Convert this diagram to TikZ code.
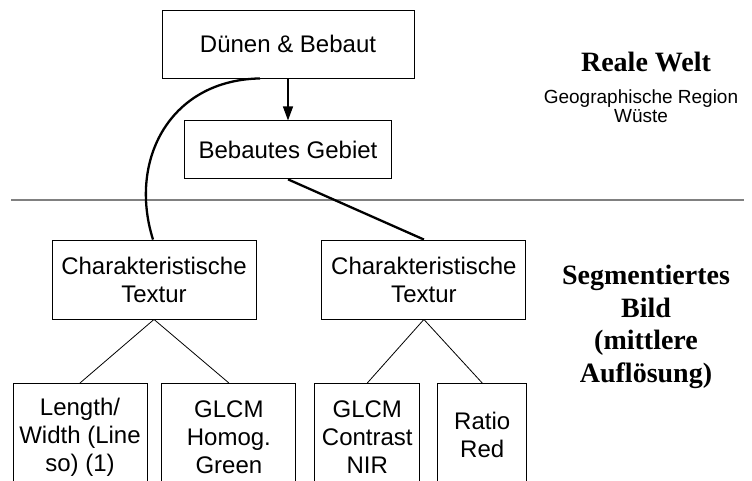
\documentclass[tikz,border=0pt]{standalone}
\usepackage{fontspec}
\setmainfont{Liberation Sans}
\newfontfamily\labelserif{Liberation Serif}
\usetikzlibrary{arrows.meta,positioning}
\tikzset{
  box/.style={draw,line width=0.9pt,fill=white,align=center,inner sep=0pt,font=\fontsize{24}{28}\selectfont},
  leaf/.style={box,minimum height=108pt},
  arr/.style={-{Triangle[length=14pt,width=10pt]},line width=1.2pt},
  link/.style={line width=0.8pt},
  boldlink/.style={line width=2.3pt},
  levelhead/.style={align=center,font=\labelserif\bfseries\fontsize{28}{32.5}\selectfont},
  levelsub/.style={align=center,font=\fontsize{19}{19}\selectfont}
}
\begin{document}
\begin{tikzpicture}[x=1pt,y=-1pt]
  \clip (0,0) rectangle (752,481);
  % levels
  \draw[gray,line width=2pt] (11,200) -- (744,200);
  \node[levelhead,anchor=base] (reale) at (646,72) {Reale Welt};
  \node[levelsub] (region) at (641,106) {Geographische Region\\Wüste};
  \node[levelhead] (segment) at (646,327) {Segmentiertes\\Bild\\(mittlere\\Auflösung)};
  % objects
  \node[box,minimum width=252pt,minimum height=68pt] (dunen) at (288,44) {Dünen \& Bebaut};
  \node[box,below=42pt of dunen,minimum width=207pt,minimum height=58pt] (gebiet) {Bebautes Gebiet};
  \node[box,minimum width=204pt,minimum height=79pt] (charL) at (154,279.5) {Charakteristische\\Textur};
  \node[box,right=65pt of charL,minimum width=204pt,minimum height=79pt] (charR) {Charakteristische\\Textur};
  % features
  \node[leaf,anchor=north,minimum width=134pt] (len) at (80,383) {Length/\\Width (Line\\so) (1)};
  \node[leaf,right=14pt of len,minimum width=134pt] (homog) {GLCM\\Homog.\\Green};
  \node[leaf,right=18pt of homog,minimum width=105pt] (contrast) {GLCM\\Contrast\\NIR};
  \node[leaf,right=17pt of contrast.north east,anchor=north west,minimum width=89pt,minimum height=102pt] (ratio) {Ratio\\Red};
  % connectors
  \draw[arr] (dunen) -- (gebiet);
  \draw[boldlink] ([xshift=-28pt]dunen.south) .. controls (170,80) and (128,160) .. ([xshift=-1pt]charL.north);
  \draw[boldlink] (gebiet.south) -- (charR.north);
  \draw[link] (charL.south) -- (len.north);
  \draw[link] (charL.south) -- (homog.north);
  \draw[link] (charR.south) -- (contrast.north);
  \draw[link] (charR.south) -- (ratio.north);
\end{tikzpicture}
\end{document}
